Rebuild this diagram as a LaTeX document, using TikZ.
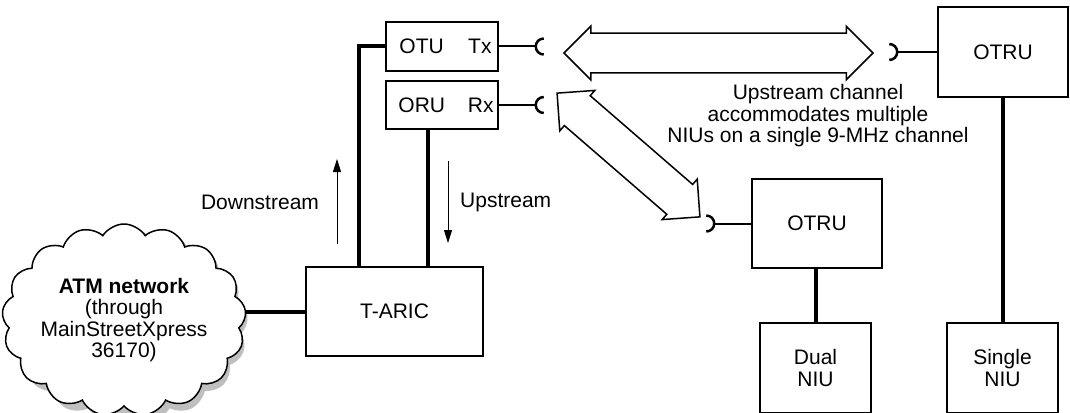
\documentclass[tikz,border=0pt]{standalone}
\usepackage{fontspec}
\setmainfont{Liberation Sans}
\usetikzlibrary{shapes.symbols, shapes.arrows, arrows.meta}
\tikzset{
  unit/.style      = {rectangle, draw, line width=1.5pt, inner sep=0pt,
                      font=\fontsize{21}{21.5}\selectfont, align=center},
  txt/.style       = {inner sep=0pt, font=\fontsize{21}{21.5}\selectfont, align=center},
  atmcloud/.style  = {cloud, cloud puffs=17, cloud puff arc=115, cloud ignores aspect,
                      minimum width=234pt, minimum height=192pt, inner sep=0pt,
                      font=\fontsize{21}{21.5}\selectfont, align=center},
  thickline/.style = {line width=4pt},
  plugline/.style  = {line width=2pt},
  plugcup/.style   = {line width=2.5pt},
  flowarrow/.style = {line width=1pt, -{Triangle[length=13pt, width=8pt]}},
  fatarrow/.style  = {double arrow, draw, line width=1.5pt, inner xsep=0pt, inner ysep=19pt,
                      minimum width=52pt, double arrow head extend=7pt,
                      double arrow tip angle=90},
}

\begin{document}
\begin{tikzpicture}[x=1pt, y=-1pt]

    \useasboundingbox (0,0) rectangle (1070,412);
    \clip (0,0) rectangle (1070,412);

    %% ATM cloud, with its shadow
    \node[atmcloud, draw=black!25, line width=4pt, fill=black!25] (atmshadow) at (129,325) {};
    \node[atmcloud, draw, line width=1.5pt, fill=white] (atm) at (124,320)
          {\textbf{ATM network}\\(through\\MainStreetXpress\\36170)};

    %% Head end
    \node[unit, minimum width=177pt, minimum height=89pt] (taric) at (394.5,311.5) {T-ARIC};
    \node[unit, minimum width=112pt, minimum height=49pt] (otu)   at (442,46.5)    {};
    \node[unit, minimum width=112pt, minimum height=48pt] (oru)   at (442,105)     {};
    \node[txt, anchor=west] (otutxt) at ([xshift=14pt]otu.west) {OTU};
    \node[txt, anchor=east] (txtxt)  at ([xshift=-7pt]otu.east) {Tx};
    \node[txt, anchor=west] (orutxt) at ([xshift=13pt]oru.west) {ORU};
    \node[txt, anchor=east] (rxtxt)  at ([xshift=-5pt]oru.east) {Rx};

    %% Subscriber side
    \node[unit, minimum width=130pt, minimum height=90pt] (otrua)   at (1003,52)     {OTRU};
    \node[unit, minimum width=130pt, minimum height=89pt] (otrub)   at (817,223.5)   {OTRU};
    \node[unit, minimum width=111pt, minimum height=90pt] (dualniu) at (815.5,368)   {Dual\\NIU};
    \node[unit, minimum width=111pt, minimum height=90pt] (single)  at (1002.5,368)  {Single\\NIU};

    %% Texts
    \node[txt] (dslabel) at (260,202) {Downstream};
    \node[txt, anchor=west] (uslabel) at (460,202) {Upstream};
    \node[txt] (chnote) at (818,116) {Upstream channel\\accommodates multiple\\NIUs on a single 9-MHz channel};

    %% Wiring
    \coordinate (orudrop) at ([xshift=-14pt]oru.south);
    \draw[thickline] (taric.west) -- (taric.west -| atm.east);
    \draw[thickline] (otu.west) -| ([xshift=-35.5pt]taric.north);
    \draw[thickline] (orudrop) -- (orudrop |- taric.north);
    \draw[thickline] (otrua.south) -- (otrua.south |- single.north);
    \draw[thickline] (dualniu.north |- otrub.south) -- (dualniu.north);

    %% Flow arrows
    \coordinate (dsfrom) at (337,244);
    \coordinate (dsto)   at (337,159);
    \coordinate (usfrom) at (448,161);
    \coordinate (usto)   at (448,243);
    \draw[flowarrow] (dsfrom) -- (dsto);
    \draw[flowarrow] (usfrom) -- (usto);

    %% Optical plugs
    \coordinate (txplug)    at ([xshift=37pt]otu.east);
    \coordinate (rxplug)    at ([xshift=37pt]oru.east);
    \coordinate (otruaplug) at ([xshift=-40pt]otrua.west);
    \coordinate (otrubplug) at ([xshift=-37pt]otrub.west);
    \draw[plugline] (otu.east)   -- (txplug);
    \draw[plugline] (oru.east)   -- (rxplug);
    \draw[plugline] (otrua.west) -- (otruaplug);
    \draw[plugline] (otrub.west) -- (otrubplug);
    \draw[plugcup] ([xshift=8pt, yshift=8pt]txplug)     arc[start angle=90, end angle=270, radius=8pt];
    \draw[plugcup] ([xshift=8pt, yshift=8pt]rxplug)     arc[start angle=90, end angle=270, radius=8pt];
    \draw[plugcup] ([xshift=-8pt, yshift=8pt]otruaplug) arc[start angle=90, end angle=-90, radius=8pt];
    \draw[plugcup] ([xshift=-8pt, yshift=8pt]otrubplug) arc[start angle=90, end angle=-90, radius=8pt];

    %% Fiber links
    \node[fatarrow, minimum height=309pt] (fiberdown) at (718.5,53) {};
    \node[fatarrow, minimum height=189pt, rotate=-40.9] (fiberup) at (628.5,155) {};

  \end{tikzpicture}
\end{document}
